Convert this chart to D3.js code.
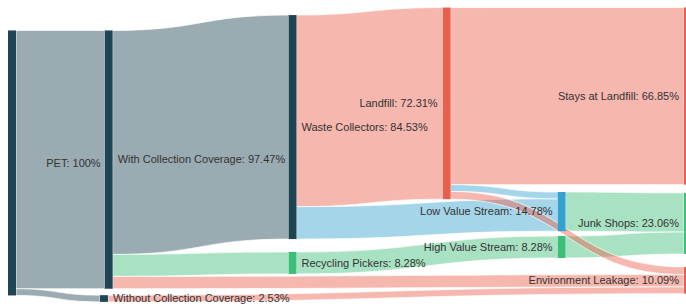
<!DOCTYPE html>
<html>
<head>
<meta charset="utf-8">
<script src="https://cdn.jsdelivr.net/npm/d3@7"></script>
<style>
  html, body { margin: 0; padding: 0; background: #fff; }
  svg { display: block; }
  .label { font-family: "Liberation Sans", Arial, sans-serif; font-size: 11px; fill: #333; }
</style>
</head>
<body>
<div id="chart"></div>
<script>
// data
const nodeNames = [
  'PET',
  'With Collection Coverage',
  'Without Collection Coverage',
  'Waste Collectors',
  'Recycling Pickers',
  'Landfill',
  'Low Value Stream',
  'High Value Stream',
  'Stays at Landfill',
  'Junk Shops',
  'Environment Leakage'
];

const linkSources = [
  'PET', 'PET',
  'With Collection Coverage', 'With Collection Coverage', 'With Collection Coverage',
  'Without Collection Coverage',
  'Waste Collectors', 'Waste Collectors',
  'Landfill', 'Landfill',
  'Recycling Pickers',
  'Low Value Stream', 'High Value Stream',
  'Landfill'
];
const linkTargets = [
  'With Collection Coverage', 'Without Collection Coverage',
  'Waste Collectors', 'Recycling Pickers', 'Environment Leakage',
  'Environment Leakage',
  'Landfill', 'Low Value Stream',
  'Stays at Landfill', 'Low Value Stream',
  'High Value Stream',
  'Junk Shops', 'Junk Shops',
  'Environment Leakage'
];
const linkValues = [
  97.47, 2.53,
  84.53, 8.28, 4.66,
  2.53,
  72.31, 12.22,
  66.85, 2.56,
  8.28,
  14.78, 8.28,
  2.90
];

// layout (plotly-like node.x / node.y fractions)
const width = 686;
const height = 304;
const nodeWidth = 8;

const nodeColumn = {
  'PET': 0,
  'With Collection Coverage': 0.143,
  'Without Collection Coverage': 0.136,
  'Waste Collectors': 0.415,
  'Recycling Pickers': 0.415,
  'Landfill': 0.643,
  'Low Value Stream': 0.813,
  'High Value Stream': 0.813,
  'Stays at Landfill': 1,
  'Junk Shops': 1,
  'Environment Leakage': 1
};

const nodeCenter = {
  'PET': 0.536,
  'With Collection Coverage': 0.525,
  'Without Collection Coverage': 0.982,
  'Waste Collectors': 0.418,
  'Recycling Pickers': 0.865,
  'Landfill': 0.340,
  'Low Value Stream': 0.696,
  'High Value Stream': 0.8125,
  'Stays at Landfill': 0.316,
  'Junk Shops': 0.735,
  'Environment Leakage': 0.922
};

const dark = '#1f4555';
const red = '#e8604c';
const green = '#3dbf7a';
const blue = '#35a1cf';

const nodeColor = {
  'PET': dark,
  'With Collection Coverage': dark,
  'Without Collection Coverage': dark,
  'Waste Collectors': dark,
  'Recycling Pickers': green,
  'Landfill': red,
  'Low Value Stream': blue,
  'High Value Stream': green,
  'Stays at Landfill': red,
  'Junk Shops': green,
  'Environment Leakage': red
};

const x = d3.scaleLinear().domain([0, 1]).range([8, 684]);
const y = d3.scaleLinear().domain([0, 1]).range([0, height]);
const k = d3.scaleLinear().domain([0, 100]).range([0, 265]);

const nodes = nodeNames.map(name => ({ name, sourceLinks: [], targetLinks: [] }));
const byName = new Map(nodes.map(d => [d.name, d]));

const links = linkValues.map((value, i) => {
  const link = { source: byName.get(linkSources[i]), target: byName.get(linkTargets[i]), value };
  link.source.sourceLinks.push(link);
  link.target.targetLinks.push(link);
  return link;
});

nodes.forEach(node => {
  node.value = Math.max(d3.sum(node.sourceLinks, l => l.value), d3.sum(node.targetLinks, l => l.value));
  const h = k(node.value);
  node.x0 = x(nodeColumn[node.name]);
  node.x1 = node.x0 + nodeWidth;
  node.y0 = y(nodeCenter[node.name]) - h / 2;
  node.y1 = node.y0 + h;
});

nodes.forEach(node => {
  node.sourceLinks.sort((a, b) => a.target.y0 - b.target.y0);
  node.targetLinks.sort((a, b) => a.source.y0 - b.source.y0);

  let sy = node.y0;
  node.sourceLinks.forEach(l => { l.sy0 = sy; sy += k(l.value); l.sy1 = sy; });

  let ty = node.y0;
  node.targetLinks.forEach(l => { l.ty0 = ty; ty += k(l.value); l.ty1 = ty; });
});

function band(l) {
  const sx = l.source.x1;
  const tx = l.target.x0;
  const mx = (sx + tx) / 2;
  const p = d3.path();
  p.moveTo(sx, l.sy0);
  p.bezierCurveTo(mx, l.sy0, mx, l.ty0, tx, l.ty0);
  p.lineTo(tx, l.ty1);
  p.bezierCurveTo(mx, l.ty1, mx, l.sy1, sx, l.sy1);
  p.closePath();
  return p.toString();
}

const svg = d3.select('#chart')
  .append('svg')
  .attr('width', width)
  .attr('height', height);

svg.append('g')
  .attr('class', 'links')
  .selectAll('path')
  .data(links)
  .join('path')
  .attr('d', band)
  .attr('fill', d => nodeColor[d.target.name])
  .attr('fill-opacity', 0.45)
  .attr('stroke', '#fff')
  .attr('stroke-opacity', 0.7)
  .attr('stroke-width', 1);

svg.append('g')
  .attr('class', 'nodes')
  .selectAll('rect')
  .data(nodes)
  .join('rect')
  .attr('x', d => d.x0)
  .attr('y', d => d.y0)
  .attr('width', d => d.x1 - d.x0)
  .attr('height', d => d.y1 - d.y0)
  .attr('fill', d => nodeColor[d.name]);

const fmt = v => String(+v.toFixed(2));

svg.append('g')
  .selectAll('text')
  .data(nodes)
  .join('text')
  .attr('class', 'label')
  .attr('x', d => {
    if (d.name === 'PET') return byName.get('With Collection Coverage').x0 - 4;
    return nodeColumn[d.name] < 0.5 ? d.x1 + 5 : d.x0 - 5;
  })
  .attr('y', d => (d.y0 + d.y1) / 2)
  .attr('dy', '0.35em')
  .attr('text-anchor', d => (d.name === 'PET' || nodeColumn[d.name] >= 0.5) ? 'end' : 'start')
  .text(d => `${d.name}: ${fmt(d.value)}%`);
</script>
</body>
</html>
